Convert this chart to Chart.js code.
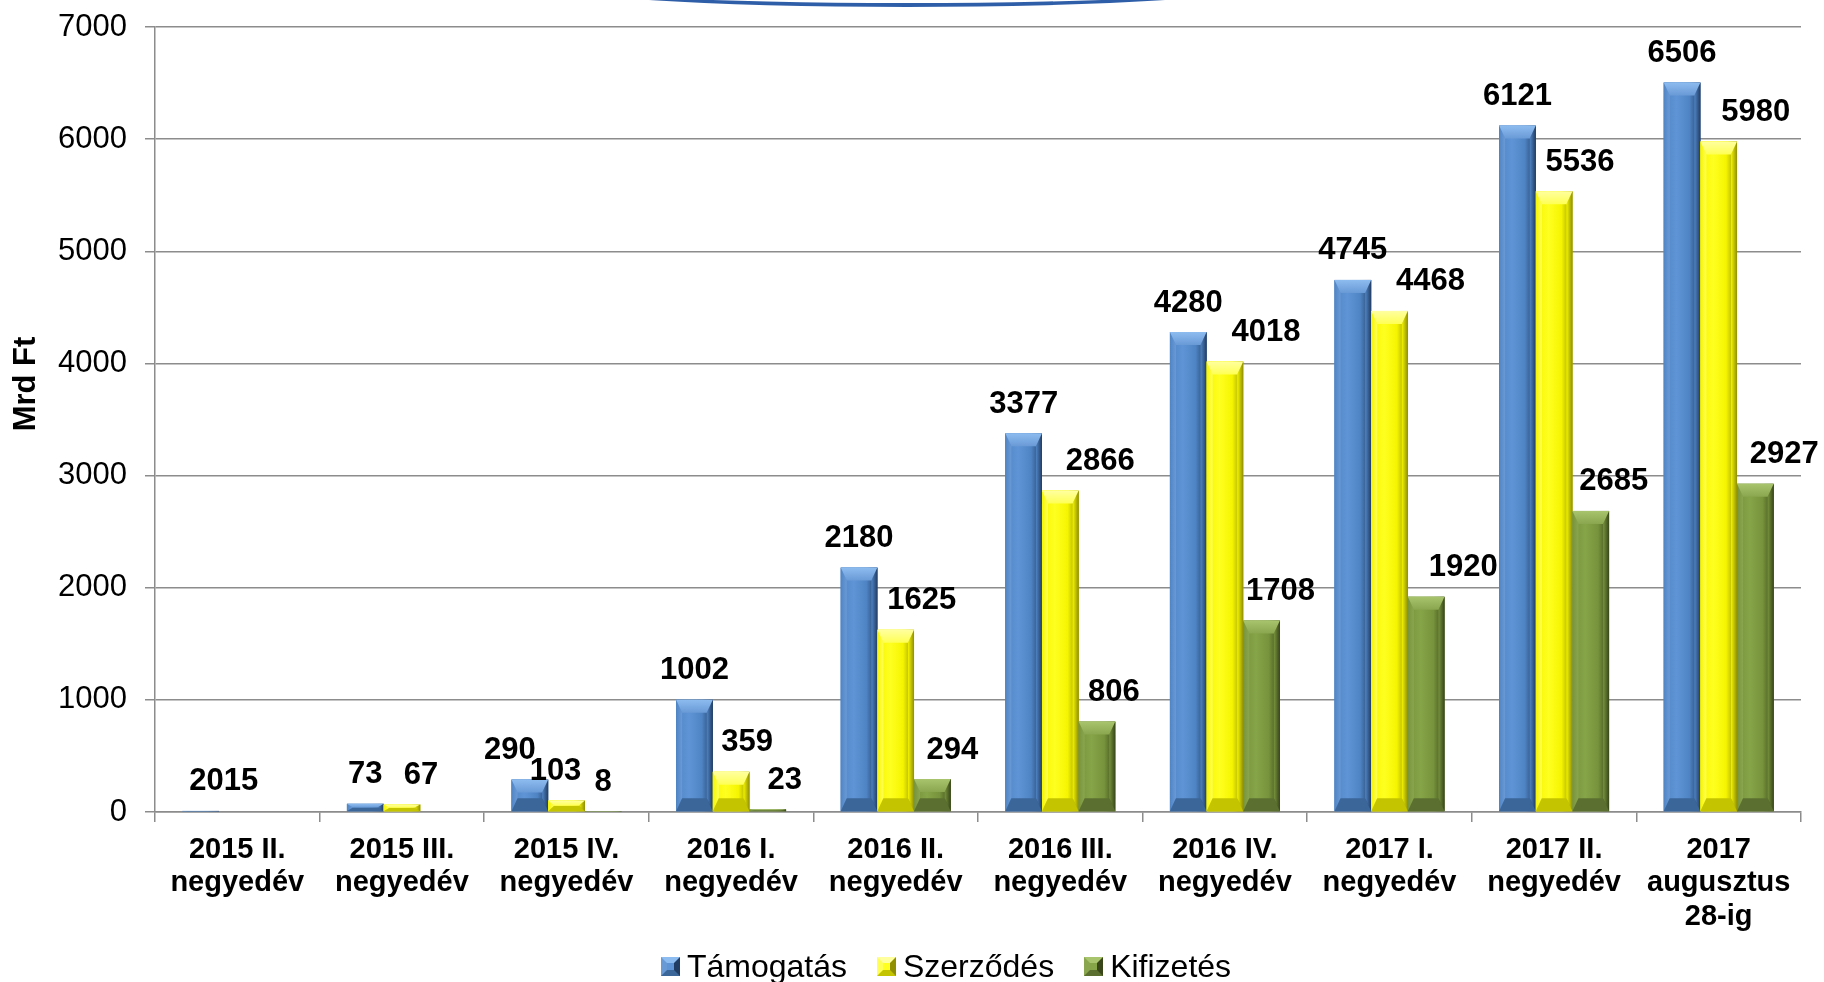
<!DOCTYPE html>
<html>
<head>
<meta charset="utf-8">
<script src="https://cdn.jsdelivr.net/npm/chart.js@4/dist/chart.umd.min.js"></script>
<style>
  html, body { margin: 0; padding: 0; background: #fff; overflow: hidden; }
  #wrap { position: relative; width: 1824px; height: 982px; }
  #arc { position: absolute; left: 542px; top: -40px; width: 730px; height: 43px;
         border-radius: 50%; border-bottom: 4px solid #2f5ea8; }
  #legend { position: absolute; left: 34px; width: 1824px; top: 946px; height: 40px;
            display: flex; justify-content: center; align-items: center;
            font: 32px "Liberation Sans", Arial, sans-serif; color: #000; }
  .item { display: flex; align-items: center; margin: 0 15px; }
  .mark { display: inline-block; width: 7px; height: 7px; border: 6px solid; margin-right: 7px; }
</style>
</head>
<body>
<div id="wrap">
  <canvas id="chart"></canvas>
  <div id="arc"></div>
  <div id="legend"></div>
</div>
<script>
// categories and values
const categories = [
  ['2015 II.', 'negyedév'], ['2015 III.', 'negyedév'], ['2015 IV.', 'negyedév'],
  ['2016 I.', 'negyedév'], ['2016 II.', 'negyedév'], ['2016 III.', 'negyedév'],
  ['2016 IV.', 'negyedév'], ['2017 I.', 'negyedév'], ['2017 II.', 'negyedév'],
  ['2017', 'augusztus', '28-ig']
];
const tamogatas = [10, 73, 290, 1002, 2180, 3377, 4280, 4745, 6121, 6506];
const szerzodes = [0, 67, 103, 359, 1625, 2866, 4018, 4468, 5536, 5980];
const kifizetes = [null, null, 8, 23, 294, 806, 1708, 1920, 2685, 2927];
const seriesNames = ['Támogatás', 'Szerződés', 'Kifizetés'];
const labelOverrides = [{ 0: '2015' }, {}, {}];
const yTicks = [0, 1000, 2000, 3000, 4000, 5000, 6000, 7000];

// look
const palette = [
  { base: '#4f84c4', light: '#8dbcf0', mid: '#6a9ad6', dark: '#223d63', face: '#5f95d6', bottom: '#3b6699' },
  { base: '#f5f500', light: '#ffffa0', mid: '#ffff55', dark: '#8f8f00', face: '#ffff20', bottom: '#c4c400' },
  { base: '#77933c', light: '#a8c46c', mid: '#8aa64e', dark: '#38461a', face: '#86a448', bottom: '#5b7030' }
];
// hand-placed label nudges (px), as in the original slide
const labelDx = [
  [23, 0, -20, 0, 0, 0, 0, 0, 0, 0],
  [0, 19, -11, 16, 26, 40, 41, 41, 26, 37],
  [0, 0, 0, 17, 20, 17, 19, 37, 23, 29]
];
const gridGray = '#8c8c8c';
const FONT = '"Liberation Sans", Arial, sans-serif';

document.getElementById('legend').innerHTML = seriesNames.map((n, i) =>
  '<span class="item"><span class="mark" style="background:' + palette[i].face +
  ';border-color:' + palette[i].light + ' ' + palette[i].dark + ' ' + palette[i].bottom + ' ' + palette[i].mid +
  '"></span>' + n + '</span>').join('');

const bevelPlugin = {
  id: 'bevel',
  afterDatasetsDraw(chart) {
    const c = chart.ctx;
    chart.data.datasets.forEach((ds, di) => {
      const meta = chart.getDatasetMeta(di);
      const p = palette[di];
      meta.data.forEach((bar, i) => {
        const v = ds.data[i];
        if (v == null || v === 0) return;
        const { x, y, base, width } = bar.getProps(['x', 'y', 'base', 'width'], true);
        const l = x - width / 2, r = x + width / 2;
        const t = Math.min(y, base), b = Math.max(y, base);
        const h = b - t;
        const bx = Math.min(6, width / 2), by = Math.min(13, h / 2);
        const poly = (pts, col) => {
          c.beginPath();
          c.moveTo(pts[0][0], pts[0][1]);
          pts.slice(1).forEach(q => c.lineTo(q[0], q[1]));
          c.closePath();
          c.fillStyle = col;
          c.fill();
        };
        c.save();
        // face with a soft horizontal shading
        const g = c.createLinearGradient(l, 0, r, 0);
        g.addColorStop(0, p.base);
        g.addColorStop(0.35, p.face);
        g.addColorStop(0.7, p.base);
        g.addColorStop(1, p.dark);
        c.fillStyle = g;
        c.fillRect(l, t, width, h);
        const gl = c.createLinearGradient(l, 0, l + bx, 0);
        gl.addColorStop(0, p.base);
        gl.addColorStop(1, p.mid);
        poly([[l, t], [l + bx, t + by], [l + bx, b - by], [l, b]], gl);
        const gr = c.createLinearGradient(r - bx, 0, r, 0);
        gr.addColorStop(0, p.base);
        gr.addColorStop(1, p.dark);
        poly([[r, t], [r, b], [r - bx, b - by], [r - bx, t + by]], gr);
        poly([[l, b], [r, b], [r - bx, b - by], [l + bx, b - by]], p.bottom);
        const gt = c.createLinearGradient(0, t, 0, t + by);
        gt.addColorStop(0, p.light);
        gt.addColorStop(1, p.mid);
        poly([[l, t], [r, t], [r - bx, t + by], [l + bx, t + by]], gt);
        c.restore();
      });
    });
  }
};

const labelPlugin = {
  id: 'valueLabels',
  afterDatasetsDraw(chart) {
    const c = chart.ctx;
    c.save();
    c.font = 'bold 31px ' + FONT;
    c.fillStyle = '#000';
    c.textAlign = 'center';
    c.textBaseline = 'middle';
    chart.data.datasets.forEach((ds, di) => {
      const meta = chart.getDatasetMeta(di);
      meta.data.forEach((bar, i) => {
        const v = ds.data[i];
        if (v == null || v === 0) return;
        const txt = labelOverrides[di][i] || String(v);
        c.fillText(txt, bar.x + labelDx[di][i], bar.y - 29);
      });
    });
    // y axis title
    c.translate(26, 384);
    c.rotate(-Math.PI / 2);
    c.font = 'bold 31px ' + FONT;
    c.fillText('Mrd Ft', 0, 0);
    c.restore();
  }
};

const ctx = document.getElementById('chart').getContext('2d');
const chart = new Chart(ctx, {
  type: 'bar',
  data: {
    labels: categories,
    datasets: [
      { label: seriesNames[0], data: tamogatas, backgroundColor: palette[0].base },
      { label: seriesNames[1], data: szerzodes, backgroundColor: palette[1].base },
      { label: seriesNames[2], data: kifizetes, backgroundColor: palette[2].base }
    ]
  },
  options: {
    responsive: true,
    maintainAspectRatio: false,
    animation: false,
    devicePixelRatio: 1,
    datasets: { bar: { categoryPercentage: 0.668, barPercentage: 1.0, borderWidth: 0 } },
    layout: { padding: { top: 27, right: 23, bottom: 50, left: 0 } },
    plugins: {
      legend: { display: false },
      tooltip: { enabled: false },
      title: { display: false }
    },
    scales: {
      x: {
        grid: { offset: true, drawOnChartArea: false, drawTicks: true, tickLength: 10, color: gridGray, lineWidth: 1.5 },
        border: { color: gridGray, width: 1.5 },
        ticks: { color: '#000', font: { family: FONT, size: 29, weight: 'bold', lineHeight: 1.16 },
                 padding: 11, maxRotation: 0, autoSkip: false },
        afterFit: s => { s.height = 120; }
      },
      y: {
        min: yTicks[0],
        max: yTicks[yTicks.length - 1],
        afterBuildTicks: s => { s.ticks = yTicks.map(v => ({ value: v })); },
        grid: { color: gridGray, lineWidth: 1.5, tickLength: 10 },
        border: { color: gridGray, width: 1.5 },
        ticks: { color: '#000', font: { family: FONT, size: 31 }, padding: 18, callback: v => String(v) },
        afterFit: s => { s.width = 155; s.paddingTop = 0; s.paddingBottom = 0; }
      }
    }
  },
  plugins: [bevelPlugin, labelPlugin]
});
</script>
</body>
</html>
